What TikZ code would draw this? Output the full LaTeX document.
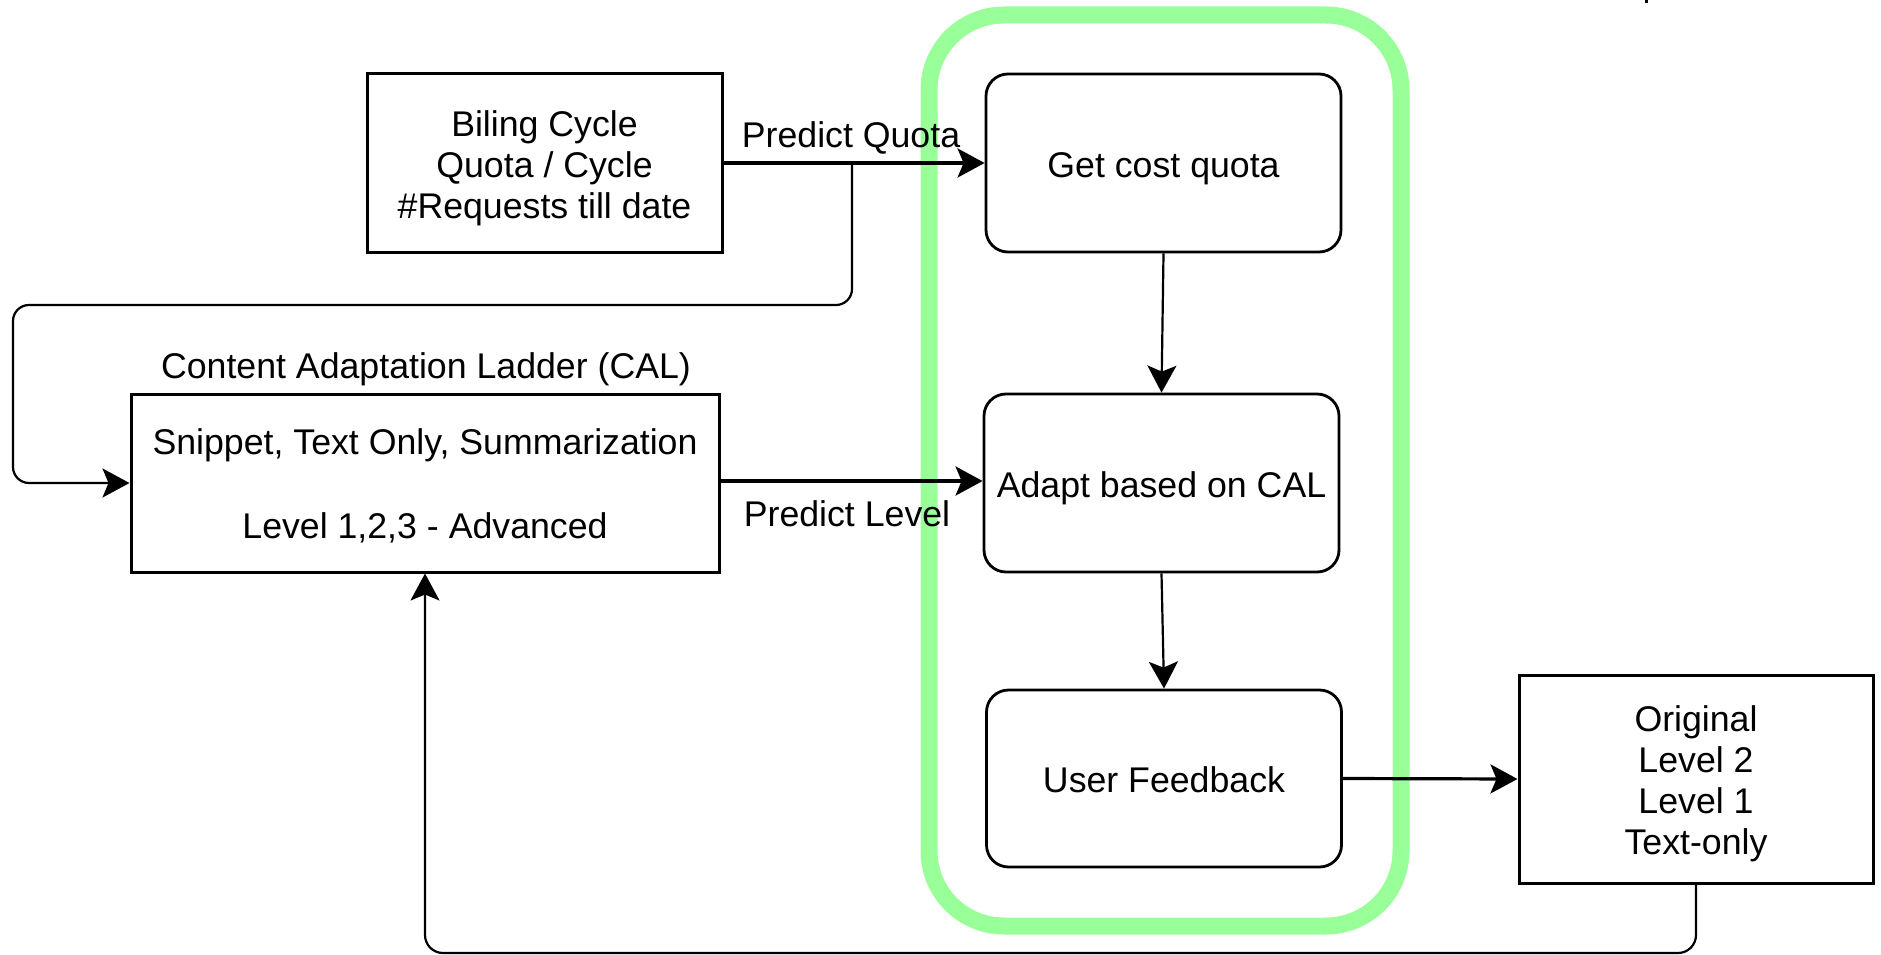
\documentclass[tikz,border=0pt]{standalone}
\usepackage{fontspec}
\setmainfont{Liberation Sans}
\usetikzlibrary{arrows.meta}
\definecolor{grp}{RGB}{153,255,153}
\tikzset{
  sqbox/.style={draw=black, line width=3pt, fill=white, inner sep=0pt},
  rndbox/.style={draw=black, line width=2.8pt, fill=white, inner sep=0pt, rounded corners=22pt},
  txt/.style={align=center, inner sep=0pt},
  tip/.style={-{Stealth[length=27pt,width=29pt,inset=6pt]}},
  thick arrow/.style={tip, line width=3.2pt},
  thin arrow/.style={tip, line width=2.2pt},
  lbl/.style={inner sep=0pt}
}
\begin{document}
\begin{tikzpicture}[x=1pt,y=-1pt,font=\fontsize{35.7}{41}\selectfont]
\useasboundingbox[fill=white] (0,0) rectangle (1881,955);
% group frame
\draw[grp, line width=17pt, rounded corners=75pt] (929,15) rectangle (1401,926);
% nodes
\node[sqbox, minimum width=355pt, minimum height=178pt,
  label={[txt,yshift=-5pt]center:Biling Cycle\\Quota / Cycle\\\#Requests till date}] (bill) at (544.5,163) {};
\node[rndbox, minimum width=355pt, minimum height=178pt,
  label={[txt,yshift=-6pt]center:Get cost quota}] (gc) at (1163.5,163) {};
\node[sqbox, minimum width=588pt, minimum height=178pt,
  label={[txt,yshift=-3pt]center:Snippet, Text Only, Summarization\\[43pt]Level 1,2,3 - Advanced}] (cal) at (425,483) {};
\node[lbl] (caltitle) at (426,369) {Content Adaptation Ladder (CAL)};
\node[rndbox, minimum width=355pt, minimum height=178pt,
  label={[txt,yshift=-5pt]center:Adapt based on CAL}] (ad) at (1161.5,483) {};
\node[rndbox, minimum width=355pt, minimum height=177pt,
  label={[txt,yshift=-1pt]center:User Feedback}] (uf) at (1164,778.5) {};
\node[sqbox, minimum width=354pt, minimum height=208pt,
  label={[txt,yshift=-5pt]center:Original\\Level 2\\Level 1\\Text-only}] (orig) at (1696,779) {};
% labels
\node[lbl] (pq) at (851,137.5) {Predict Quota};
\node[lbl] (pl) at (847,514) {Predict Level};
% connectors
\coordinate (br) at (852,163);
\draw[thick arrow] (bill.east) -- (gc.west);
\draw[thin arrow, rounded corners=16pt] (br) -- (852,305) -- (13,305) -- (13,483) -- (cal.west);
\draw[thick arrow] (cal.east |- 0,481) -- (ad.west |- 0,481);
\draw[thin arrow] (gc.south) -- (ad.north);
\draw[thin arrow] (ad.south) -- (uf.north);
\draw[thick arrow] (uf.east) -- (orig.west);
\draw[thin arrow, rounded corners=18pt] (orig.south) -- (1696,953) -- (425,953) -- (cal.south);
% small cut-off mark at top edge
\fill (1644.5,0) rectangle (1648,3.5);
\end{tikzpicture}
\end{document}
